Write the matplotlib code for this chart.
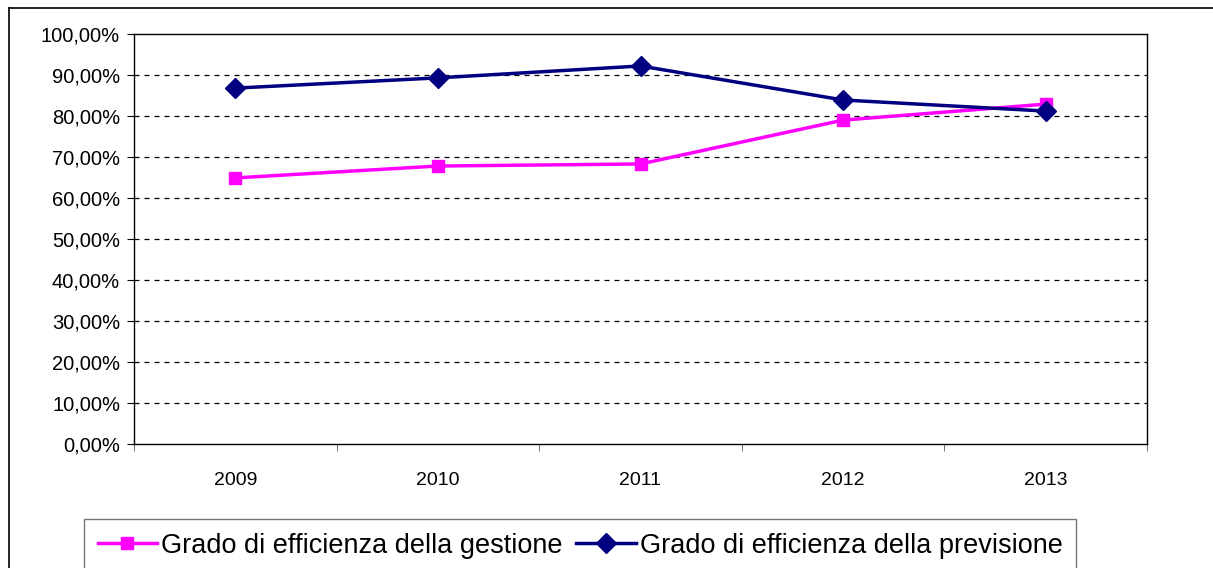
import matplotlib.pyplot as plt
from matplotlib.lines import Line2D
from matplotlib.ticker import FixedLocator, FuncFormatter

plt.rcParams['font.family'] = ['Liberation Sans', 'DejaVu Sans']

# Data
years = ["2009", "2010", "2011", "2012", "2013"]
gestione = [64.9, 67.8, 68.3, 79.0, 82.9]
previsione = [86.8, 89.3, 92.2, 83.9, 81.2]

W, H = 1213, 568
fig = plt.figure(figsize=(W / 100, H / 100), dpi=100)

# outer chart frame (only top and left visible)
fig.add_artist(Line2D([9 / W, 9 / W], [0, 1 - 8 / H], color="black", lw=1.2,
                      transform=fig.transFigure))
fig.add_artist(Line2D([9 / W, 1], [1 - 8 / H, 1 - 8 / H], color="black", lw=1.2,
                      transform=fig.transFigure))

left, right, top, bottom = 134, 1147, 34, 444
ax = fig.add_axes([left / W, 1 - bottom / H, (right - left) / W, (bottom - top) / H])

x = list(range(len(years)))
ax.plot(x, gestione, color="#FF00FF", lw=2.5, marker="s", markersize=9,
        label="Grado di efficienza della gestione", zorder=3)
ax.plot(x, previsione, color="#000080", lw=2.5, marker="D", markersize=10,
        label="Grado di efficienza della previsione", zorder=4)

ax.set_xlim(-0.5, len(years) - 0.5)
ax.set_ylim(0, 100)
ax.set_yticks(range(0, 101, 10))
ax.yaxis.set_major_formatter(FuncFormatter(lambda v, p: f"{v:.2f}%".replace(".", ",")))
ax.set_xticks(x)
ax.set_xticklabels(years)
ax.xaxis.set_minor_locator(FixedLocator([i + 0.5 for i in range(-1, len(years))]))
ax.tick_params(axis="x", which="major", length=0, pad=20, labelsize=14)
ax.tick_params(axis="x", which="minor", length=5, direction="out", color="#555555")
ax.tick_params(axis="y", length=5, direction="out", labelsize=14.5, pad=5)

for v in range(10, 100, 10):
    ax.axhline(v, color="black", lw=0.9, dashes=(4, 4), zorder=1)

for s in ax.spines.values():
    s.set_color("black")
    s.set_linewidth(1)

leg = fig.legend(loc="upper left", bbox_to_anchor=(84 / W, 1 - 519 / H), ncol=2,
                 fontsize=19.5, frameon=True, fancybox=False, edgecolor="#555555",
                 handlelength=2.2, handletextpad=0.15, columnspacing=0.5,
                 borderpad=0.5, borderaxespad=0)
leg.get_frame().set_linewidth(1)

fig.savefig("out.png", dpi=100)
